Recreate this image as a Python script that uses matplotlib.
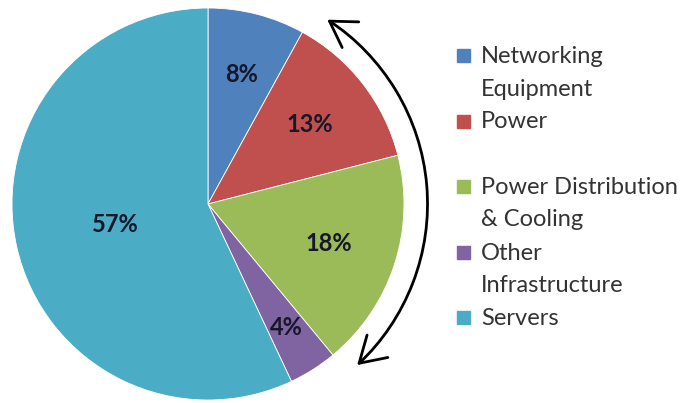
import matplotlib
matplotlib.use("Agg")
import matplotlib.pyplot as plt
import numpy as np
from matplotlib.patches import Rectangle, FancyArrowPatch
from matplotlib.path import Path

plt.rcParams['font.family'] = ['Lato', 'DejaVu Sans']

labels = ["Networking\nEquipment", "Power", "Power Distribution\n& Cooling",
          "Other\nInfrastructure", "Servers"]
shares = [8, 13, 18, 4, 57]
colors = ["#4F81BD", "#C0504D", "#9BBB59", "#8064A2", "#4BACC6"]
# how far out each percent label sits (fraction of radius)
label_dist = [0.68, 0.66, 0.65, 0.745, 0.485]

W, H = 684, 403
fig = plt.figure(figsize=(W / 100, H / 100), dpi=100)
fig.patch.set_facecolor("white")

# pie centre and radius in pixels
cx, cy, R = 208, 199, 196
L = 1.4
side = 2 * L * R
ax = fig.add_axes([(cx - side / 2) / W, (cy - side / 2) / H, side / W, side / H])

wedges, _ = ax.pie(shares, colors=colors, startangle=90, counterclock=False,
                   radius=1, wedgeprops=dict(edgecolor="white", linewidth=0.6))
ax.set_xlim(-L, L)
ax.set_ylim(-L, L)
ax.set_aspect("equal")
ax.axis("off")

for w, v, d in zip(wedges, shares, label_dist):
    ang = np.deg2rad((w.theta1 + w.theta2) / 2)
    ax.text(d * np.cos(ang), d * np.sin(ang), f"{v}%", ha="center", va="center",
            fontsize=17, fontweight="bold", color="#17172a")

# curved double arrow along the right side
arc = Path.arc(-47.2, 57.1)
verts = arc.vertices * 1.12
arrow = FancyArrowPatch(path=Path(verts, arc.codes),
                        arrowstyle="<->,head_length=0.9,head_width=0.55",
                        mutation_scale=20, lw=2.0, color="black",
                        shrinkA=0, shrinkB=0)
ax.add_patch(arrow)

# legend, drawn by hand so every entry takes two lines
y0 = 63
step = 65.5
line = 32.5
for i, (lab, c) in enumerate(zip(labels, colors)):
    yb = y0 + i * step
    fig.add_artist(Rectangle((457 / W, 1 - (yb - 1) / H), 13 / W, 13 / H,
                             transform=fig.transFigure, color=c))
    for j, txt in enumerate(lab.split("\n")):
        fig.text(481 / W, 1 - (yb + j * line) / H, txt, fontsize=17,
                 color="#333333", ha="left", va="baseline")

fig.savefig("out.png", dpi=100)
